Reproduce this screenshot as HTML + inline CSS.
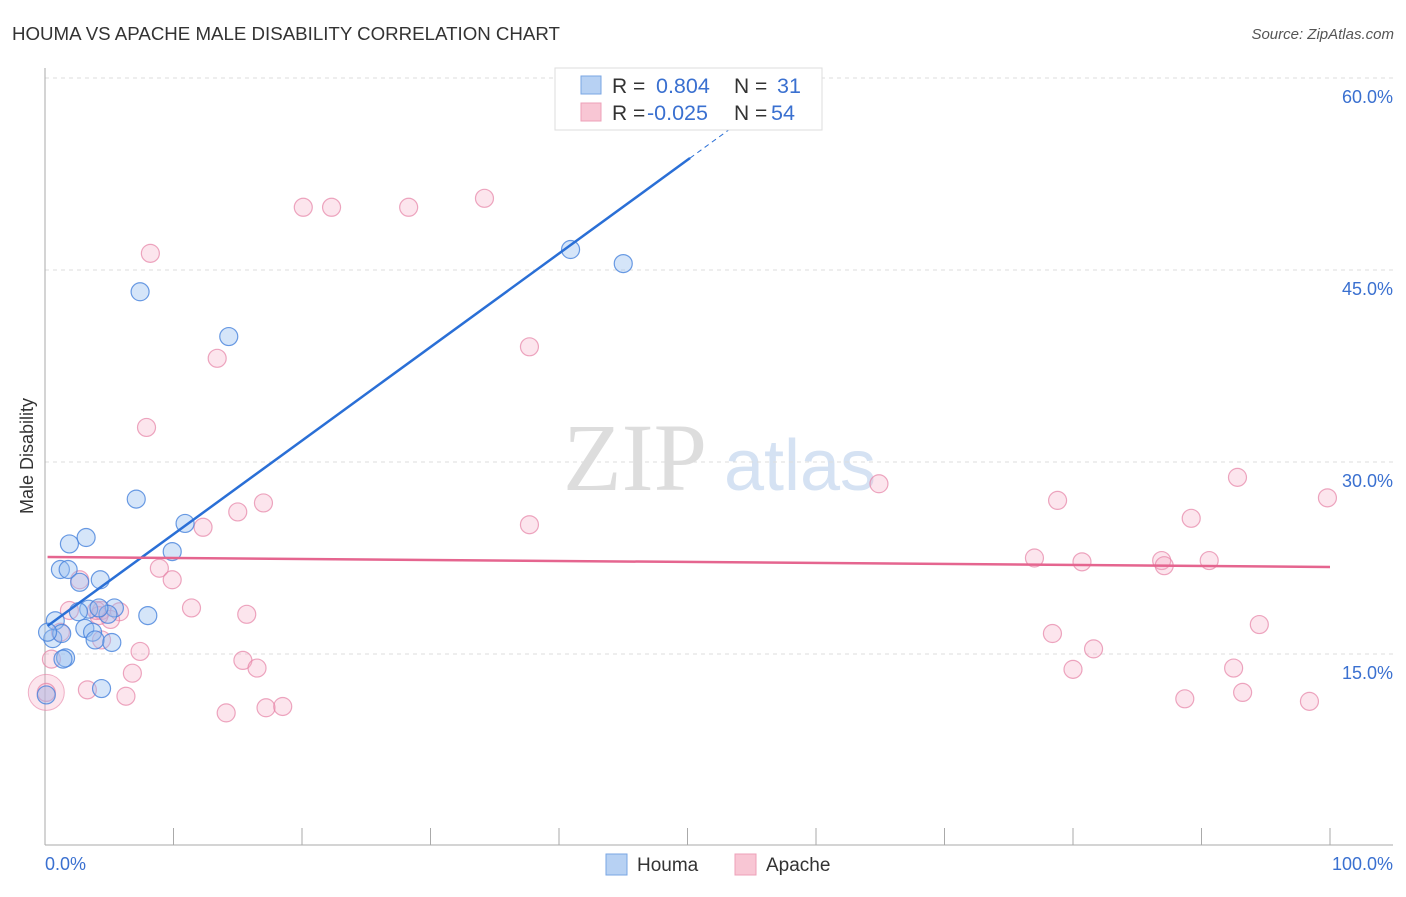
<!DOCTYPE html>
<html><head><meta charset="utf-8"><style>
body{margin:0;background:#fff;font-family:"Liberation Sans",sans-serif;}
svg text{font-family:"Liberation Sans",sans-serif;}
</style></head><body>
<svg id="c" width="1406" height="892">
<text x="12" y="40" font-size="18.7" fill="#333">HOUMA VS APACHE MALE DISABILITY CORRELATION CHART</text>
<text x="1394" y="39" font-size="15" fill="#555" font-style="italic" text-anchor="end">Source: ZipAtlas.com</text>
<text x="33" y="456" font-size="18" fill="#333" text-anchor="middle" transform="rotate(-90 33 456)">Male Disability</text>
<g><text x="635" y="490" font-size="96" fill="#ddd" text-anchor="middle" style="font-family:'Liberation Serif',serif">ZIP</text><text x="800" y="490" font-size="72" fill="#d5e2f3" text-anchor="middle">atlas</text></g>
<g id="grid"></g><g id="marks"></g>
<g>
<rect x="555" y="68" width="267" height="62" fill="#fff" stroke="#ddd"/>
<rect x="581" y="76" width="20" height="18" fill="#b7d1f3" stroke="#7aa6e3"/>
<rect x="581" y="103" width="20" height="18" fill="#f8c6d4" stroke="#eea0b8"/>
<text x="612" y="93" font-size="21" fill="#333">R =</text><text x="656" y="93" font-size="21.5" fill="#3a70d0">0.804</text>
<text x="734" y="93" font-size="21" fill="#333">N =</text><text x="777" y="93" font-size="21.5" fill="#3a70d0">31</text>
<text x="612" y="120" font-size="21" fill="#333">R =</text><text x="647" y="120" font-size="21.5" fill="#3a70d0">-0.025</text>
<text x="734" y="120" font-size="21" fill="#333">N =</text><text x="771" y="120" font-size="21.5" fill="#3a70d0">54</text>
</g>
<g>
<rect x="606" y="854" width="21" height="21" fill="#b7d1f3" stroke="#7aa6e3"/><text x="637" y="871" font-size="19" fill="#333">Houma</text>
<rect x="735" y="854" width="21" height="21" fill="#f8c6d4" stroke="#eea0b8"/><text x="766" y="871" font-size="19" fill="#333">Apache</text>
</g>
<text x="45" y="870" font-size="18" fill="#3a70d0">0.0%</text>
<text x="1393" y="870" font-size="18" fill="#3a70d0" text-anchor="end">100.0%</text>
</svg>
<script>
const yTicks=[15,30,45,60];
const yTickLabels=["15.0%","30.0%","45.0%","60.0%"];
const houmaX=[7.4,14.3,40.9,45.0,7.1,10.9,9.9,3.2,1.9,1.2,1.8,4.3,2.7,8.0,5.4,3.4,2.6,0.8,3.1,3.7,3.9,0.6,5.2,1.3,1.6,1.4,4.4,0.1,0.2,4.9,4.2];
const houmaY=[43.3,39.8,46.6,45.5,27.1,25.2,23.0,24.1,23.6,21.6,21.6,20.8,20.6,18.0,18.6,18.5,18.3,17.6,17.0,16.7,16.1,16.2,15.9,16.6,14.7,14.6,12.3,11.8,16.7,18.1,18.6];
const apacheX=[34.2,28.3,22.3,20.1,8.2,13.4,37.7,7.9,64.9,17.0,15.0,12.3,37.7,92.8,99.8,78.8,89.2,77.0,80.7,86.9,90.6,87.1,8.9,9.9,2.7,11.4,15.7,4.4,5.8,5.1,1.9,1.2,4.4,0.5,7.4,15.4,16.5,6.8,3.3,6.3,14.1,17.2,18.5,78.4,81.6,80.0,94.5,92.5,98.4,88.7,93.2,0.1,4.2,4.0];
const apacheY=[50.6,49.9,49.9,49.9,46.3,38.1,39.0,32.7,28.3,26.8,26.1,24.9,25.1,28.8,27.2,27.0,25.6,22.5,22.2,22.3,22.3,21.9,21.7,20.8,20.8,18.6,18.1,18.4,18.3,17.7,18.4,16.7,16.1,14.6,15.2,14.5,13.9,13.5,12.2,11.7,10.4,10.8,10.9,16.6,15.4,13.8,17.3,13.9,11.3,11.5,12.0,12.0,18.0,18.4];
const houmaTrend=[17.05,0.731];
const apacheTrend=[22.58,-0.0078];
const X=v=>45+v*12.85, Y=v=>654-(v-15)*12.8;
const NS="http://www.w3.org/2000/svg";
function mk(t,a,p){const e=document.createElementNS(NS,t);for(const k in a)e.setAttribute(k,a[k]);p.appendChild(e);return e;}
const g=document.getElementById('grid'), m=document.getElementById('marks');
yTicks.forEach((t,i)=>{
 const l=mk('line',{x1:45,x2:1393,y1:Y(t),y2:Y(t),stroke:'#ddd','stroke-dasharray':'4,4'},g);
 
 
 const tx=mk('text',{x:1393,y:Y(t)+25,'font-size':18,fill:'#3a70d0','text-anchor':'end'},g);
 tx.textContent=yTickLabels[i];
 
 
});
const ax=mk('line',{x1:45,x2:45,y1:68,y2:845,stroke:'#aaa'},g);


const bx=mk('line',{x1:45,x2:1393,y1:845,y2:845,stroke:'#aaa'},g);


for(let i=0;i<=10;i++){const t=mk('line',{x1:X(i*10),x2:X(i*10),y1:828,y2:845,stroke:'#aaa'},g);
 
 }
const big=mk('circle',{cx:X(0.1),cy:Y(12.0),r:18,fill:'rgba(245,170,195,0.3)',stroke:'rgba(230,130,165,0.6)'},m);


apacheX.forEach((x,i)=>{const c=mk('circle',{cx:X(x),cy:Y(apacheY[i]),r:9,fill:'rgba(245,170,195,0.3)',stroke:'rgba(230,130,165,0.7)','stroke-width':1.2},m);
 
 });
houmaX.forEach((x,i)=>{const c=mk('circle',{cx:X(x),cy:Y(houmaY[i]),r:9,fill:'rgba(150,190,240,0.4)',stroke:'rgba(70,130,220,0.8)','stroke-width':1.2},m);
 
 });
const hb=v=>houmaTrend[0]+houmaTrend[1]*v;
const t1=mk('line',{x1:X(0.2),y1:Y(hb(0.2)),x2:X(50.2),y2:Y(hb(50.2)),stroke:'#2a6fd6','stroke-width':2.5},m);


const t2=mk('line',{x1:X(50.2),y1:Y(hb(50.2)),x2:X(53.7),y2:Y(hb(53.7)),stroke:'#2a6fd6','stroke-width':1,'stroke-dasharray':'5,4'},m);


const ab=v=>apacheTrend[0]+apacheTrend[1]*v;
const t3=mk('line',{x1:X(0.2),y1:Y(ab(0.2)),x2:X(100),y2:Y(ab(100)),stroke:'#e5658f','stroke-width':2.5},m);


</script>
</body></html>
